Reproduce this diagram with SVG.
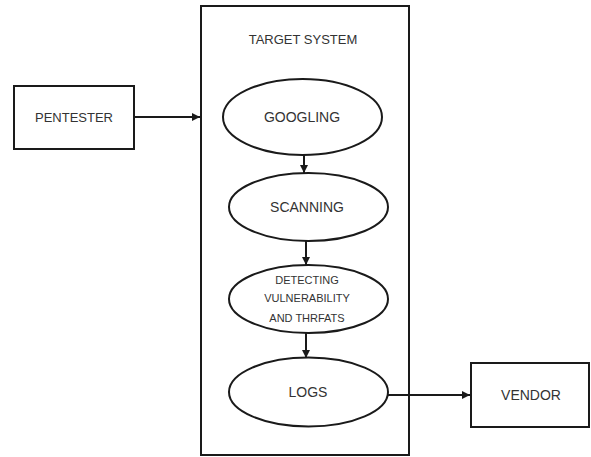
<svg xmlns="http://www.w3.org/2000/svg" width="591" height="457" viewBox="0 0 591 457">
  <style>
    .box { fill: #ffffff; stroke: #1a1a1a; stroke-width: 2; }
    .oval { fill: #ffffff; stroke: #1a1a1a; stroke-width: 2; }
    .lbl { font-family: "Liberation Sans", Arial, sans-serif; fill: #333333; text-anchor: middle; }
    .edge { stroke: #1a1a1a; stroke-width: 2; fill: none; marker-end: url(#head); }
  </style>
  <defs>
    <marker id="head" viewBox="0 0 10 10" refX="10" refY="5" markerWidth="4" markerHeight="4" orient="auto" markerUnits="strokeWidth">
      <path d="M0,0 L10,5 L0,10 Z" fill="#1a1a1a"/>
    </marker>
  </defs>
  <rect width="591" height="457" fill="#ffffff"/>

  <g id="target-system">
    <rect class="box" x="201" y="6" width="208" height="449"/>
    <text class="lbl" x="303" y="44" font-size="13">TARGET SYSTEM</text>
  </g>

  <g id="pentester">
    <rect class="box" x="14" y="86" width="120" height="63"/>
    <text class="lbl" x="74" y="122" font-size="13">PENTESTER</text>
  </g>

  <g id="googling">
    <ellipse class="oval" cx="302.5" cy="117" rx="79.5" ry="38"/>
    <text class="lbl" x="302" y="122" font-size="14">GOOGLING</text>
  </g>

  <g id="scanning">
    <ellipse class="oval" cx="308.5" cy="207" rx="79.5" ry="34"/>
    <text class="lbl" x="307" y="212" font-size="14">SCANNING</text>
  </g>

  <g id="detecting">
    <ellipse class="oval" cx="308.5" cy="299" rx="79.5" ry="34"/>
    <text class="lbl" x="307" y="284" font-size="11">DETECTING</text>
    <text class="lbl" x="307" y="302" font-size="11">VULNERABILITY</text>
    <text class="lbl" x="307" y="322" font-size="11">AND THRFATS</text>
  </g>

  <g id="logs">
    <ellipse class="oval" cx="308.5" cy="392" rx="79.5" ry="34.5"/>
    <text class="lbl" x="308" y="397" font-size="14">LOGS</text>
  </g>

  <g id="vendor">
    <rect class="box" x="471" y="363" width="118" height="64"/>
    <text class="lbl" x="531" y="400" font-size="14">VENDOR</text>
  </g>

  <g id="connectors">
    <line class="edge" x1="134" y1="117" x2="200" y2="117"/>
    <line class="edge" x1="304" y1="155" x2="304" y2="173"/>
    <line class="edge" x1="306" y1="241" x2="306" y2="265"/>
    <line class="edge" x1="306" y1="333" x2="306" y2="358"/>
    <line class="edge" x1="388" y1="395" x2="470" y2="395"/>
  </g>
</svg>
